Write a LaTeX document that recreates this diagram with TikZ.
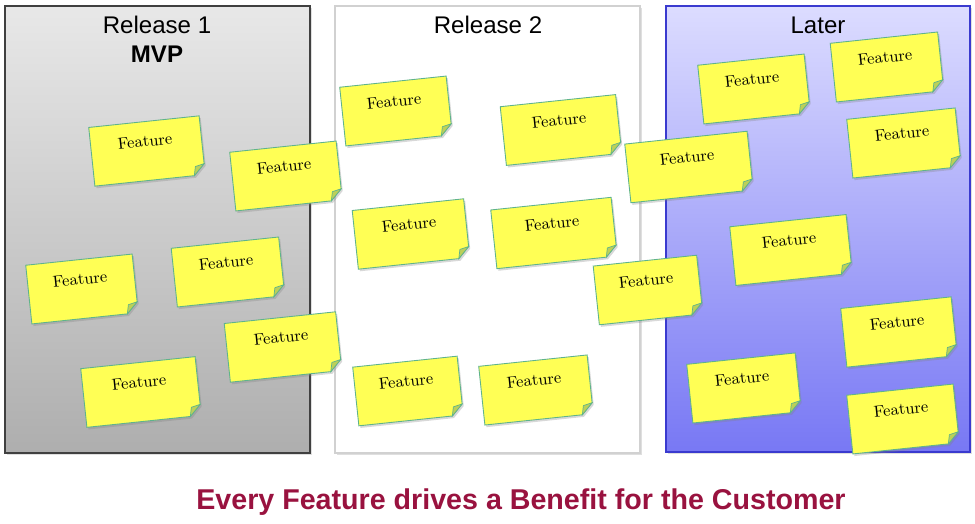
\documentclass[tikz,border=0pt]{standalone}
\usepackage{fontspec}
\newfontfamily\arialfont{Liberation Sans}
\usetikzlibrary{shadows}

\definecolor{noteyellow}{HTML}{FFFF55}
\definecolor{noteedge}{HTML}{5FB38C}
\definecolor{notefoldc}{HTML}{BCD058}
\definecolor{relTop}{HTML}{E8E8E8}
\definecolor{relBot}{HTML}{AEAEAE}
\definecolor{laterTop}{HTML}{DCDCFF}
\definecolor{laterBot}{HTML}{7878F4}
\definecolor{laterEdge}{HTML}{3A3ACF}
\definecolor{benefitred}{HTML}{99123F}

% sticky note: name, x, y, width
\newcommand{\featnote}[4]{%
  \begin{scope}[shift={(#2,#3)}, rotate=6]
    \draw[notebody] ({-#4/2},29.5) -- ({#4/2},29.5) -- ({#4/2},-18.5)
      -- ({#4/2-11},-29.5) -- ({-#4/2},-29.5) -- cycle;
    \filldraw[notefold] ({#4/2},-18.5) -- ({#4/2-11},-29.5) -- ({#4/2-9},-20.5) -- cycle;
    \node[featlabel] (#1) at (-1,10) {Feature};
  \end{scope}}

\begin{document}
\begin{tikzpicture}[
      x=0.02cm, y=0.02cm,
      colbox/.style={
        line width=0.6pt,
        drop shadow={shadow xshift=1pt, shadow yshift=-1pt, opacity=0.25}
      },
      notebody/.style={
        draw=noteedge,
        fill=noteyellow,
        line width=0.5pt,
        drop shadow={shadow xshift=0.9pt, shadow yshift=-1.2pt, opacity=0.3}
      },
      notefold/.style={
        fill=notefoldc,
        draw=noteedge,
        line width=0.4pt
      },
      featlabel/.style={
        font=\fontsize{9.2}{11}\selectfont,
        transform shape,
        inner sep=0pt
      },
      coltitle/.style={
        font=\arialfont\fontsize{13.7}{16}\selectfont,
        anchor=base
      },
      benefit/.style={
        font=\arialfont\bfseries\fontsize{16.3}{19}\selectfont,
        text=benefitred,
        anchor=base
      }
    ]
    \useasboundingbox (0,0) rectangle (975,524);

    % Columns
    \draw[colbox, draw=black!75, top color=relTop, bottom color=relBot]
      (5,518) rectangle (310,71);
    \draw[colbox, draw=black!18, fill=white]
      (335,518) rectangle (640,71);
    \draw[colbox, draw=laterEdge, top color=laterTop, bottom color=laterBot]
      (666,518) rectangle (970,72);

    % Titles
    \node[coltitle] (rel1) at (157,490) {Release 1};
    \node[coltitle, font=\arialfont\bfseries\fontsize{13.7}{16}\selectfont] (mvp) at (157,461) {MVP};
    \node[coltitle] (rel2) at (488,490) {Release 2};
    \node[coltitle] (later) at (818,490) {Later};

    % Release 1 notes
    \featnote{fa}{147}{373}{111}
    \featnote{fb}{286}{348}{107}
    \featnote{fc}{82}{235}{107}
    \featnote{fd}{228}{252}{108}
    \featnote{fe}{283}{177}{112}
    \featnote{ff}{141}{132}{115}

    % Release 2 notes
    \featnote{fg}{396}{413}{107}
    \featnote{fh}{561}{394}{116}
    \featnote{fi}{411}{290}{112}
    \featnote{fj}{554}{291}{121}
    \featnote{fk}{408}{133}{105}
    \featnote{fl}{536}{134}{109}
    \featnote{fm}{689}{357}{123}
    \featnote{fn}{648}{234}{104}

    % Later notes
    \featnote{fo}{754}{435}{107}
    \featnote{fp}{887}{457}{108}
    \featnote{fq}{904}{381}{109}
    \featnote{fr}{791}{274}{117}
    \featnote{fs}{899}{192}{111}
    \featnote{ft}{744}{136}{109}
    \featnote{fu}{903}{105}{107}

    % Caption
    \node[benefit] (benefit) at (521,14) {Every Feature drives a Benefit for the Customer};

    \end{tikzpicture}
\end{document}
